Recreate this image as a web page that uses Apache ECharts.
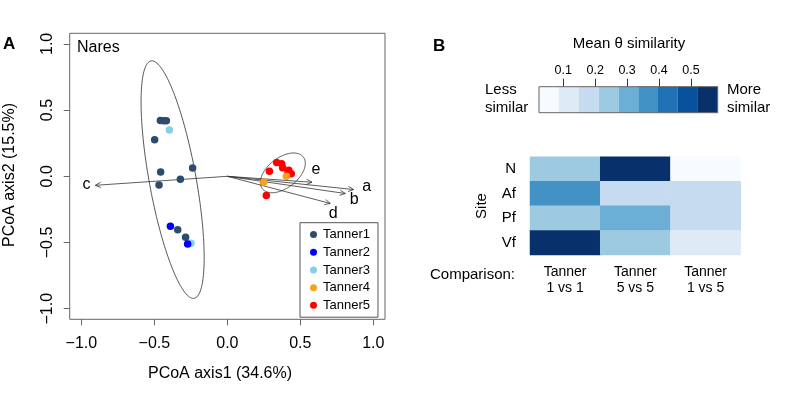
<!DOCTYPE html>
<html>
<head>
<meta charset="utf-8">
<script src="https://cdn.jsdelivr.net/npm/echarts@6/dist/echarts.min.js"></script>
<style>
html,body{margin:0;padding:0;background:#fff;}
#chart{width:785px;height:408px;}
</style>
</head>
<body>
<div id="chart"></div>
<script>
// ---------- Panel A data ----------
const axisTicks = [-1, -0.5, 0, 0.5, 1];

const tanner1X = [-0.459, -0.436, -0.418, -0.498, -0.457, -0.238, -0.322, -0.468, -0.340, -0.286];
const tanner1Y = [0.421, 0.419, 0.419, 0.276, 0.033, 0.063, -0.023, -0.065, -0.403, -0.461];
const tanner2X = [-0.390, -0.272];
const tanner2Y = [-0.378, -0.511];
const tanner3X = [-0.397, -0.249];
const tanner3Y = [0.349, -0.506];
const tanner4X = [0.404, 0.249];
const tanner4Y = [0.000, -0.044];
const tanner5X = [0.338, 0.372, 0.379, 0.288, 0.421, 0.438, 0.414, 0.267];
const tanner5Y = [0.105, 0.095, 0.065, 0.038, 0.045, 0.020, 0.024, -0.145];

// ellipses: centre, and two conjugate semi-diameters (data units)
const ellCx = [-0.375, 0.380];
const ellCy = [-0.025, 0.026];
const ellUx = [-0.142, 0.074];
const ellUy = [0.897, 0.150];
const ellVx = [0.163, 0.135];
const ellVy = [0.000, 0.000];

// biplot arrows (from origin)
const arrowLabels = ['a', 'b', 'c', 'd', 'e'];
const arrowX = [0.865, 0.808, -0.904, 0.705, 0.580];
const arrowY = [-0.100, -0.130, -0.068, -0.205, -0.045];
// label pixel offsets (style)
const arrowLabelOffset = [[13, -3], [9, 6], [-9, -1], [3, 10], [4, -13]];

// ---------- Panel B data ----------
const sites = ['N', 'Af', 'Pf', 'Vf'];
const comparisons = ['Tanner\n1 vs 1', 'Tanner\n5 vs 5', 'Tanner\n1 vs 5'];
const simN  = [0.24, 0.58, 0.03];
const simAf = [0.36, 0.17, 0.17];
const simPf = [0.23, 0.30, 0.18];
const simVf = [0.57, 0.24, 0.10];
const colorBreaks = [0.024, 0.086, 0.148, 0.211, 0.273, 0.335, 0.397, 0.459, 0.522, 0.584];
const colorbarTicks = [0.1, 0.2, 0.3, 0.4, 0.5];
const blues = ['#F7FBFF', '#DEEBF7', '#C6DBEF', '#9ECAE1', '#6BAED6', '#4292C6', '#2171B5', '#08519C', '#08306B'];

// ---------- build ----------
const FONT = 'Liberation Sans, Arial, Helvetica, sans-serif';
const zip = (xs, ys) => xs.map((x, i) => [x, ys[i]]);
const fmtTick = v => (v < 0 ? '\u2212' : '') + Math.abs(v).toFixed(1);

const simRows = [simN, simAf, simPf, simVf];
const heatData = [];
simRows.forEach((row, r) => row.forEach((v, c) => heatData.push([c, r, v])));

const pieces = blues.map((col, i) => (i < blues.length - 1
  ? { gte: colorBreaks[i], lt: colorBreaks[i + 1], color: col }
  : { gte: colorBreaks[i], lte: colorBreaks[i + 1], color: col }));

const colorbarData = blues.map((_, i) => [colorBreaks[i], 0.5, colorBreaks[i + 1]]);

function renderEllipse(params, api) {
  const i = params.dataIndex;
  const pts = [];
  const n = 160;
  for (let k = 0; k <= n; k++) {
    const t = 2 * Math.PI * k / n;
    pts.push(api.coord([
      ellCx[i] + ellUx[i] * Math.cos(t) + ellVx[i] * Math.sin(t),
      ellCy[i] + ellUy[i] * Math.cos(t) + ellVy[i] * Math.sin(t)
    ]));
  }
  return { type: 'polyline', shape: { points: pts }, style: { stroke: '#444', fill: null, lineWidth: 0.9 } };
}

function renderArrow(params, api) {
  const i = params.dataIndex;
  const p0 = api.coord([0, 0]);
  const p1 = api.coord([api.value(0), api.value(1)]);
  const a = Math.atan2(p1[1] - p0[1], p1[0] - p0[0]);
  const h = 6, th = Math.PI / 7;
  const h1 = [p1[0] - h * Math.cos(a - th), p1[1] - h * Math.sin(a - th)];
  const h2 = [p1[0] - h * Math.cos(a + th), p1[1] - h * Math.sin(a + th)];
  const off = arrowLabelOffset[i];
  return {
    type: 'group',
    children: [
      { type: 'line', shape: { x1: p0[0], y1: p0[1], x2: p1[0], y2: p1[1] }, style: { stroke: '#333', lineWidth: 0.8 } },
      { type: 'polyline', shape: { points: [h1, p1, h2] }, style: { stroke: '#333', fill: null, lineWidth: 0.8 } },
      { type: 'text', style: { text: arrowLabels[i], x: p1[0] + off[0], y: p1[1] + off[1], fill: '#000', fontSize: 16, fontFamily: FONT, align: 'center', verticalAlign: 'middle' } }
    ]
  };
}

function renderCell(params, api) {
  const p0 = api.coord([api.value(0), 0]);
  const p1 = api.coord([api.value(2), 1]);
  return {
    type: 'rect',
    shape: { x: p0[0], y: p1[1], width: p1[0] - p0[0], height: p0[1] - p1[1] },
    style: { fill: blues[params.dataIndex] }
  };
}

const scatterSeries = (name, xs, ys, color) => ({
  type: 'scatter', name, xAxisIndex: 0, yAxisIndex: 0,
  data: zip(xs, ys), symbol: 'circle', symbolSize: 7.5,
  itemStyle: { color, opacity: 1 }, z: 3, silent: true
});

const option = {
  animation: false,
  backgroundColor: '#fff',
  textStyle: { fontFamily: FONT },
  grid: [
    { left: 69.7, top: 33.3, width: 315.3, height: 286, show: true, borderColor: '#666', borderWidth: 1, backgroundColor: 'transparent' },
    { left: 530, top: 156.7, width: 210.7, height: 98.3 },
    { left: 539, top: 86.7, width: 178.7, height: 26, show: true, borderColor: '#666', borderWidth: 1, z: 10, backgroundColor: 'transparent' }
  ],
  xAxis: [
    {
      gridIndex: 0, type: 'value', min: -1.08, max: 1.08, position: 'bottom',
      axisLine: { show: false, onZero: false }, splitLine: { show: false },
      axisTick: { show: true, length: 6, customValues: axisTicks, lineStyle: { color: '#666' } },
      axisLabel: { customValues: axisTicks, formatter: fmtTick, fontSize: 16, color: '#000', margin: 16, fontFamily: FONT }
    },
    {
      gridIndex: 1, type: 'category', data: comparisons,
      axisLine: { show: false }, axisTick: { show: false }, splitLine: { show: false },
      axisLabel: { fontSize: 14, color: '#000', margin: 9, lineHeight: 16, fontFamily: FONT }
    },
    {
      gridIndex: 2, type: 'value', position: 'top', min: colorBreaks[0], max: colorBreaks[colorBreaks.length - 1],
      axisLine: { show: false, onZero: false }, splitLine: { show: false },
      axisTick: { show: true, length: 8, customValues: colorbarTicks, lineStyle: { color: '#333' } },
      axisLabel: { customValues: colorbarTicks, formatter: v => v.toFixed(1), fontSize: 12.5, color: '#000', margin: 10, fontFamily: FONT }
    }
  ],
  yAxis: [
    {
      gridIndex: 0, type: 'value', min: -1.08, max: 1.08, position: 'left',
      axisLine: { show: false, onZero: false }, splitLine: { show: false },
      axisTick: { show: true, length: 6, customValues: axisTicks, lineStyle: { color: '#666' } },
      axisLabel: { customValues: axisTicks, formatter: fmtTick, fontSize: 16, color: '#000', rotate: 90, margin: 14, fontFamily: FONT }
    },
    {
      gridIndex: 1, type: 'category', data: sites, inverse: true,
      axisLine: { show: false }, axisTick: { show: false }, splitLine: { show: false },
      axisLabel: { fontSize: 15, color: '#000', margin: 14, fontFamily: FONT }
    },
    {
      gridIndex: 2, type: 'value', min: 0, max: 1, show: false
    }
  ],
  visualMap: [{
    type: 'piecewise', show: false, seriesIndex: 7, dimension: 2, pieces
  }],
  legend: {
    orient: 'vertical', left: 300, top: 222.7,
    data: ['Tanner1', 'Tanner2', 'Tanner3', 'Tanner4', 'Tanner5'],
    icon: 'circle', itemWidth: 7, itemHeight: 7, itemGap: 0,
    padding: [3, 8, 3, 10],
    borderColor: '#555', borderWidth: 1, borderRadius: 0,
    textStyle: { fontSize: 13, color: '#000', lineHeight: 17.7, fontFamily: FONT, padding: [0, 0, 0, 1] },
    selectedMode: false
  },
  series: [
    {
      type: 'custom', name: 'ellipses', xAxisIndex: 0, yAxisIndex: 0,
      data: zip(ellCx, ellCy), renderItem: renderEllipse, z: 2, silent: true
    },
    {
      type: 'custom', name: 'arrows', xAxisIndex: 0, yAxisIndex: 0,
      data: zip(arrowX, arrowY), renderItem: renderArrow, z: 2, silent: true
    },
    scatterSeries('Tanner1', tanner1X, tanner1Y, '#2D4B6C'),
    scatterSeries('Tanner3', tanner3X, tanner3Y, '#87CEEB'),
    scatterSeries('Tanner2', tanner2X, tanner2Y, '#0000FF'),
    scatterSeries('Tanner5', tanner5X, tanner5Y, '#FF0000'),
    scatterSeries('Tanner4', tanner4X, tanner4Y, '#F7A21B'),
    {
      type: 'heatmap', xAxisIndex: 1, yAxisIndex: 1, data: heatData,
      itemStyle: { borderWidth: 0 }, silent: true, progressive: 0
    },
    {
      type: 'custom', xAxisIndex: 2, yAxisIndex: 2, data: colorbarData,
      encode: { x: [0, 2], y: 1 }, renderItem: renderCell, silent: true
    }
  ],
  graphic: [
    { type: 'text', left: 3, top: 36, style: { text: 'A', fontSize: 17, fontWeight: 'bold', fill: '#000', fontFamily: FONT } },
    { type: 'text', left: 433, top: 38, style: { text: 'B', fontSize: 17, fontWeight: 'bold', fill: '#000', fontFamily: FONT } },
    { type: 'text', x: 77, y: 48, style: { text: 'Nares', fontSize: 16, fill: '#000', fontFamily: FONT, verticalAlign: 'middle' } },
    { type: 'text', x: 220, y: 374, style: { text: 'PCoA axis1 (34.6%)', fontSize: 16, fill: '#000', fontFamily: FONT, align: 'center', verticalAlign: 'middle' } },
    { type: 'text', x: 10, y: 175, rotation: Math.PI / 2, style: { text: 'PCoA axis2 (15.5%)', fontSize: 16, fill: '#000', fontFamily: FONT, align: 'center', verticalAlign: 'middle' } },
    { type: 'text', x: 629, y: 44, style: { text: 'Mean \u03B8 similarity', fontSize: 15, fill: '#000', fontFamily: FONT, align: 'center', verticalAlign: 'middle' } },
    { type: 'text', x: 485, y: 90, style: { text: 'Less', fontSize: 15, fill: '#000', fontFamily: FONT, verticalAlign: 'middle' } },
    { type: 'text', x: 485, y: 108, style: { text: 'similar', fontSize: 15, fill: '#000', fontFamily: FONT, verticalAlign: 'middle' } },
    { type: 'text', x: 727, y: 90, style: { text: 'More', fontSize: 15, fill: '#000', fontFamily: FONT, verticalAlign: 'middle' } },
    { type: 'text', x: 727, y: 108, style: { text: 'similar', fontSize: 15, fill: '#000', fontFamily: FONT, verticalAlign: 'middle' } },
    { type: 'text', x: 482, y: 206, rotation: Math.PI / 2, style: { text: 'Site', fontSize: 15, fill: '#000', fontFamily: FONT, align: 'center', verticalAlign: 'middle' } },
    { type: 'text', x: 430, y: 275, style: { text: 'Comparison:', fontSize: 15, fill: '#000', fontFamily: FONT, verticalAlign: 'middle' } }
  ]
};

const chart = echarts.init(document.getElementById('chart'), null, { renderer: 'canvas' });
chart.setOption(option);
</script>
</body>
</html>
